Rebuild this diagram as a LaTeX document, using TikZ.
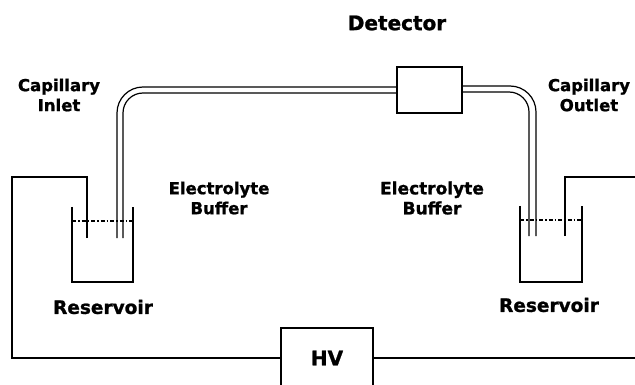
\documentclass[tikz,border=0pt]{standalone}
\usepackage{fontspec}
\setmainfont[BoldFeatures={FakeBold=1.2}]{DejaVu Sans}
\usetikzlibrary{calc,positioning}
\tikzset{
  wire/.style={line width=1.5pt},
  box/.style={rectangle,draw,line width=1.5pt,inner sep=0,outer sep=0},
  lbl/.style={font=\fontsize{#1}{20}\selectfont\bfseries,align=center,inner sep=0},
  lbl/.default=16.5,
  buffer-level/.style={line width=1.1pt,dash pattern=on 4pt off 2pt on 1.5pt off 2pt},
  capillary/.style={line width=1.2pt,rounded corners=#1},
  capillary/.default=26pt
}
\begin{document}
\begin{tikzpicture}[x=1pt,y=-1pt]
    \useasboundingbox (0,0) rectangle (635,385);
    \clip (0,0) rectangle (635,385);
    % detector and high voltage
    \node[box,minimum width=65pt,minimum height=46pt] (detector) at (429.5,90) {};
    \node[box,minimum width=92pt,minimum height=64pt] (hv) at (327,360) {};
    \node[lbl=20] (hv-text) at (327,358) {HV};
    % reservoirs
    \coordinate (res-l-a) at (72,207);
    \coordinate (res-l-b) at (72,282);
    \coordinate (res-l-c) at (133,282);
    \coordinate (res-l-d) at (133,207);
    \draw[wire] (res-l-a) -- (res-l-b) -- (res-l-c) -- (res-l-d);
    \coordinate (res-r-a) at (520,206);
    \coordinate (res-r-b) at (520,282);
    \coordinate (res-r-c) at (582,282);
    \coordinate (res-r-d) at (582,206);
    \draw[wire] (res-r-a) -- (res-r-b) -- (res-r-c) -- (res-r-d);
    \draw[buffer-level] (72,221) -- (133,221);
    \draw[buffer-level] (520,220) -- (582,220);
    % capillary
    \draw[capillary] (117,238) -- (117,87) -- (detector.west |- 0,87);
    \draw[capillary=20pt] (123,238) -- (123,93) -- (detector.west |- 0,93);
    \draw[capillary] (detector.east |- 0,86) -- (536,86) -- (536,236);
    \draw[capillary=20pt] (detector.east |- 0,92) -- (529,92) -- (529,236);
    % electrodes
    \coordinate (el-l) at (87,238);
    \coordinate (el-r) at (565,236);
    \draw[wire] (el-l) -- (87,177) -- (12,177) -- (12,358) -- (hv.west |- 0,358);
    \draw[wire] (el-r) -- (565,177) -- (635,177);
    \draw[wire] (hv.east |- 0,358) -- (635,358);
    % labels
    \node[lbl=20] (detector-text) at (397,23) {Detector};
    \node[lbl] (inlet-text) at (59,95) {Capillary\\Inlet};
    \node[lbl] (outlet-text) at (589,95) {Capillary\\Outlet};
    \node[lbl] (buffer-l) at (219,198) {Electrolyte\\Buffer};
    \node[lbl=17] (buffer-r) at (432,198) {Electrolyte\\Buffer};
    \node[lbl=18.5] (res-l-text) at (103,307) {Reservoir};
    \node[lbl=18.5] (res-r-text) at (549,305) {Reservoir};
\end{tikzpicture}
\end{document}
